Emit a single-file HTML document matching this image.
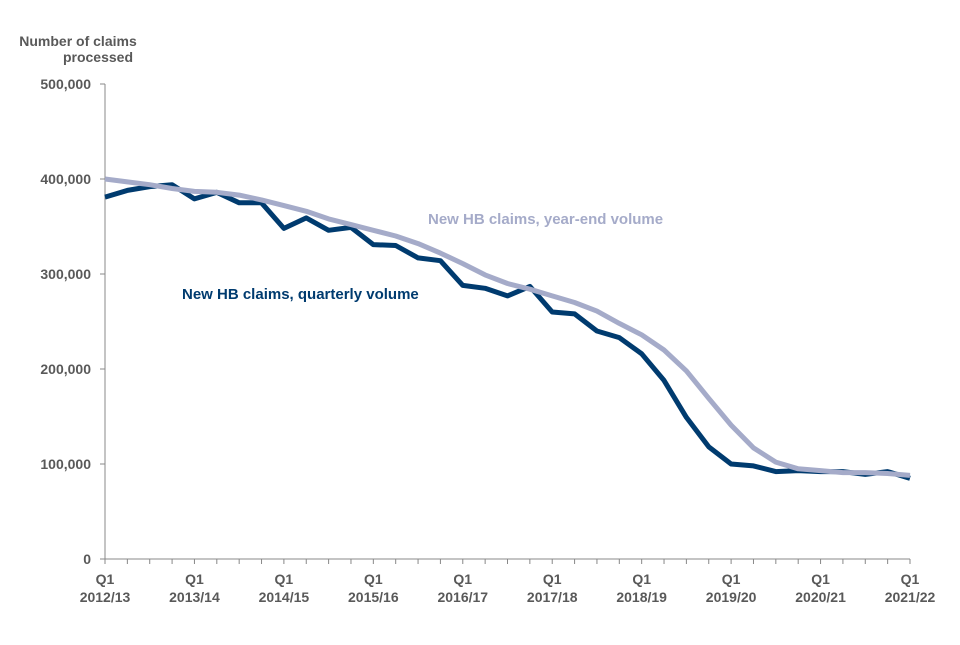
<!DOCTYPE html>
<html><head><meta charset="utf-8"><style>
body{margin:0;background:#fff;font-family:"Liberation Sans",Arial,sans-serif}
svg text{font-family:"Liberation Sans",Arial,sans-serif;font-weight:bold}
</style></head><body>
<svg id="chart" width="960" height="640" viewBox="0 0 960 640">
<text x="78" y="46" font-size="14" fill="#595959" text-anchor="middle">Number of claims</text>
<text x="98" y="62" font-size="14" fill="#595959" text-anchor="middle">processed</text>
<g id="axes"></g>
<g id="lines"></g>
<text x="428" y="224" font-size="15" fill="#a5abc9">New HB claims, year-end volume</text>
<text x="182" y="299" font-size="15" fill="#003b6f">New HB claims, quarterly volume</text>
</svg>
<script>
const quarterly=[381,388,392,394,379,386,375,375,348,359,346,349,331,330,317,314,288,285,277,287,260,258,240,233,216,188,149,118,100,98,92,93,92,92,89,92,85];
const yearEnd=[400,397,394,390,387,386,383,378,372,366,358,352,346,340,332,322,311,299,290,284,277,270,261,248,236,220,198,169,141,117,102,95,93,91,91,90,88];
const yTicks=[0,100000,200000,300000,400000,500000];
const yTickLabels=["0","100,000","200,000","300,000","400,000","500,000"];
const xLabels=["2012/13","2013/14","2014/15","2015/16","2016/17","2017/18","2018/19","2019/20","2020/21","2021/22"];
const NS="http://www.w3.org/2000/svg";
const x0=105,x1=910,y0=559,y1=84;
const n=quarterly.length;
function xs(i){return x0+(x1-x0)*i/(n-1);}
function ys(v){return y0-(y0-y1)*v/500000;}
function mk(t,a,p){const e=document.createElementNS(NS,t);for(const k in a)e.setAttribute(k,a[k]);p.appendChild(e);return e;}
const ax=document.getElementById('axes');
let yl=mk('line',{x1:x0,y1:y1,x2:x0,y2:y0,stroke:'#888','stroke-width':1},ax);


let xl=mk('line',{x1:x0,y1:y0,x2:x1,y2:y0,stroke:'#888','stroke-width':1},ax);


yTicks.forEach((v,i)=>{
 mk('line',{x1:x0-5,y1:ys(v),x2:x0,y2:ys(v),stroke:'#888'},ax);
 const t=mk('text',{x:x0-14,y:ys(v)+5,'text-anchor':'end','font-size':14,fill:'#595959'},ax);
 t.textContent=yTickLabels[i];
 
 
});
for(let i=0;i<n;i++){mk('line',{x1:xs(i),y1:y0,x2:xs(i),y2:y0+5,stroke:'#888'},ax);}
xLabels.forEach((l,k)=>{
 const x=xs(k*4);
 const a=mk('text',{x:x,y:y0+25,'text-anchor':'middle','font-size':14,fill:'#595959'},ax);
 a.textContent='Q1';
 
 
 const b=mk('text',{x:x,y:y0+43,'text-anchor':'middle','font-size':14,fill:'#595959'},ax);
 b.textContent=l;
 
 
});
const lg=document.getElementById('lines');
function line(data,color,name){
 const d=data.map((v,i)=>(i?'L':'M')+xs(i).toFixed(1)+','+ys(v*1000).toFixed(1)).join('');
 const p=mk('path',{d:d,fill:'none',stroke:color,'stroke-width':5,'stroke-linejoin':'round'},lg);
 
 
}
line(quarterly,'#003b6f','quarterly-line');
line(yearEnd,'#a5abc9','year-end-line');
</script>
</body></html>
